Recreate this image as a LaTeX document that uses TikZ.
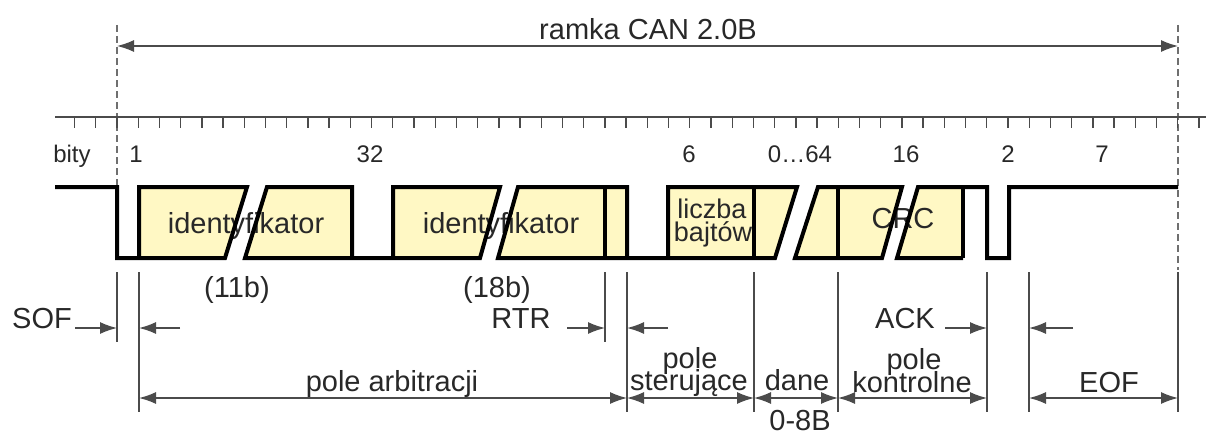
\documentclass[tikz,border=0pt]{standalone}
\usepackage{fontspec}
\setmainfont{Liberation Sans}
\usetikzlibrary{arrows.meta}
\definecolor{boxfill}{RGB}{255,248,196}
\definecolor{thin}{RGB}{75,75,75}
\definecolor{txt}{RGB}{40,40,40}
\begin{document}
\begin{tikzpicture}[x=1pt,y=-1pt,
  sig/.style={line width=4pt, black, line join=miter, line cap=butt},
  fld/.style={fill=boxfill, draw=none},
  gap/.style={fill=white, draw=none},
  dim/.style={line width=1.4pt, draw=thin},
  guide/.style={line width=1.5pt, draw=thin!80, dash pattern=on 7pt off 4pt},
  arr/.style={dim, -{Latex[length=17pt,width=12pt]}},
  darr/.style={dim, {Latex[length=17pt,width=12pt]}-{Latex[length=17pt,width=12pt]}},
  lbl/.style={font=\fontsize{29}{29}\selectfont, inner sep=0pt, anchor=base, text=txt},
  num/.style={font=\fontsize{24}{24}\selectfont, inner sep=0pt, anchor=base, text=txt},
  small/.style={font=\fontsize{27}{27}\selectfont, inner sep=0pt, anchor=base, text=txt}]
\useasboundingbox (0,0) rectangle (1206,436);

% ---------- frame extent ----------
\coordinate (gL) at (117,25);
\coordinate (gLb) at (117,187);
\coordinate (gR) at (1178,25);
\coordinate (gRb) at (1178,270);
\draw[guide] (gL) -- (gLb);
\draw[guide] (gR) -- (gRb);
\coordinate (fL) at (117,46);
\coordinate (fR) at (1178,46);
\draw[darr] (fL) -- (fR);
\node[lbl] (title) at (648,40) {ramka CAN 2.0B};

% ---------- bit ruler ----------
\coordinate (rA) at (55,117);
\coordinate (rB) at (1206,117);
\draw[dim] (rA) -- (rB);
\foreach \k in {-2,...,51}
  \draw[dim] ({117+\k*21.214},117) -- ++(0,11);

\node[num] (bity) at (72,162) {bity};
\node[num] (n1) at (136,162) {1};
\node[num] (n32) at (370,162) {32};
\node[num] (n6) at (689,162) {6};
\node[num] (n064) at (800,162) {0\ldots64};
\node[num] (n16) at (906,162) {16};
\node[num] (n2) at (1008,162) {2};
\node[num] (n7) at (1102,162) {7};

% ---------- field fills ----------
\fill[fld] (139,187) -- (352,187) -- (352,258) -- (139,258) -- cycle;
\fill[fld] (393,187) -- (627,187) -- (627,258) -- (393,258) -- cycle;
\fill[fld] (668,187) -- (963,187) -- (963,258) -- (668,258) -- cycle;

% slash gaps
\fill[gap] (247,187) -- (267,187) -- (245,258) -- (225,258) -- cycle;
\fill[gap] (500,187) -- (518,187) -- (498,258) -- (480,258) -- cycle;
\fill[gap] (797,187) -- (818,187) -- (795,258) -- (775,258) -- cycle;
\fill[gap] (902,187) -- (918,187) -- (897,258) -- (882,258) -- cycle;

\node[lbl] (id1) at (246,233) {identyfikator};
\node[lbl] (id2) at (501,233) {identyfikator};
\node[small] (lb1) at (712,218) {liczba};
\node[small] (lb2) at (713,241) {bajtów};
\node[lbl] (crc) at (903,228) {CRC};

% ---------- signal ----------
\draw[sig] (55,187) -- (117,187) -- (117,258) -- (225,258) -- (247,187) -- (139,187) -- (139,258);
\draw[sig] (352,258) -- (352,187) -- (267,187) -- (245,258) -- (480,258) -- (500,187) -- (393,187) -- (393,258);
\draw[sig] (627,258) -- (627,187) -- (518,187) -- (498,258) -- (775,258) -- (797,187) -- (668,187) -- (668,258);
\draw[sig] (605,187) -- (605,258);
\draw[sig] (754,187) -- (754,258);
\draw[sig] (818,187) -- (902,187) -- (882,258) -- (795,258) -- cycle;
\draw[sig] (838,187) -- (838,258);
\draw[sig] (963,258) -- (897,258) -- (918,187) -- (987,187) -- (987,258) -- (1009,258) -- (1009,187) -- (1178,187);
\draw[sig] (963,187) -- (963,258);

\node[lbl] (b11) at (237,297) {(11b)};
\node[lbl] (b18) at (497,297) {(18b)};

% ---------- field markers ----------
\foreach \n/\x/\b in {m117/117/342, m139/139/412, m605/605/342, m627/627/412,
                       m754/754/412, m838/838/412, m987/987/412, m1029/1029/412, m1178/1178/412}{
  \coordinate (\n t) at (\x,272);
  \coordinate (\n b) at (\x,\b);
  \coordinate (\n u) at (\x,328);
  \coordinate (\n d) at (\x,398);
  \draw[dim] (\n t) -- (\n b);
}

\coordinate (sofS) at (75,328);
\coordinate (sofE) at (180,328);
\coordinate (rtrS) at (567,328);
\coordinate (rtrE) at (668,328);
\coordinate (ackS) at (945,328);
\coordinate (ackE) at (1073,328);
\draw[arr] (sofS) -- (m117u);
\draw[arr] (sofE) -- (m139u);
\draw[arr] (rtrS) -- (m605u);
\draw[arr] (rtrE) -- (m627u);
\draw[arr] (ackS) -- (m987u);
\draw[arr] (ackE) -- (m1029u);

\node[lbl] (sof) at (42,328) {SOF};
\node[lbl] (rtr) at (521,328) {RTR};
\node[lbl] (ack) at (905,328) {ACK};

\draw[darr] (m139d) -- (m627d);
\draw[darr] (m627d) -- (m754d);
\draw[darr] (m754d) -- (m838d);
\draw[darr] (m838d) -- (m987d);
\draw[darr] (m1029d) -- (m1178d);

\node[lbl] (arb) at (392,391) {pole arbitracji};
\node[lbl] (st1) at (690,368) {pole};
\node[lbl] (st2) at (689,390) {sterujące};
\node[lbl] (dane) at (797,390) {dane};
\node[lbl] (d08) at (800,430) {0-8B};
\node[lbl] (kt1) at (914,369) {pole};
\node[lbl] (kt2) at (912,392) {kontrolne};
\node[lbl] (eof) at (1109,392) {EOF};
\end{tikzpicture}
\end{document}
